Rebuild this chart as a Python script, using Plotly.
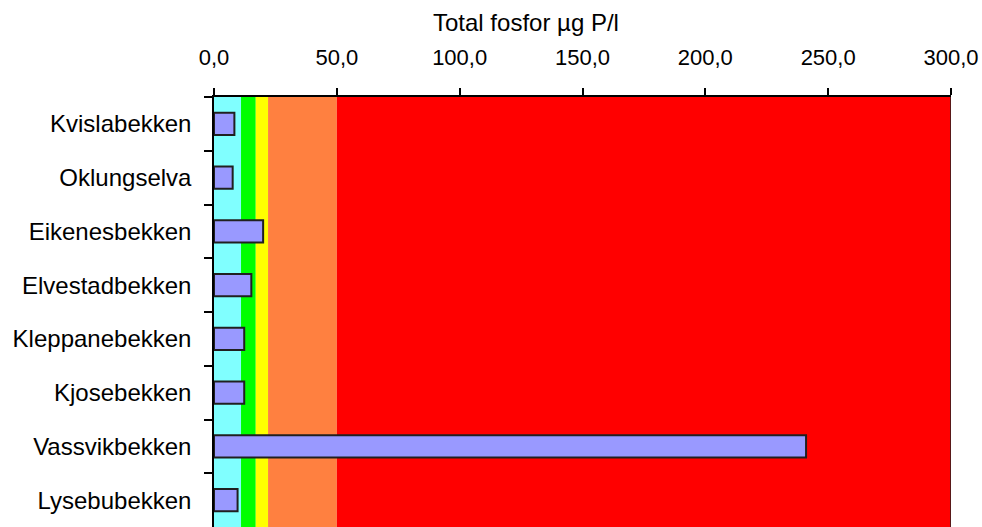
import plotly.graph_objects as go

categories = ["Kvislabekken", "Oklungselva", "Eikenesbekken", "Elvestadbekken",
              "Kleppanebekken", "Kjosebekken", "Vassvikbekken", "Lysebubekken"]
values = [8.3, 7.6, 20.0, 15.2, 12.3, 12.3, 241.0, 9.6]

band_limits = [0, 11, 17, 22, 50, 300]
band_colors = ["#80FFFF", "#00FF00", "#FFFF00", "#FF8040", "#FF0000"]

x_ticks = [0, 50, 100, 150, 200, 250, 300]
x_title = "Total fosfor µg P/l"

FONT = "Liberation Sans, Arial, sans-serif"

fig = go.Figure()
fig.add_trace(go.Bar(
    x=values, y=categories, orientation="h", width=0.41,
    marker=dict(color="#9999FF", line=dict(color="#202020", width=2)),
    showlegend=False, hoverinfo="x+y",
))

shapes = []
for i, c in enumerate(band_colors):
    shapes.append(dict(type="rect", xref="x", yref="paper",
                       x0=band_limits[i], x1=band_limits[i + 1], y0=0, y1=1,
                       fillcolor=c, line=dict(width=0), layer="below"))
# right border of plot
shapes.append(dict(type="line", xref="x", yref="paper", x0=band_limits[-1], x1=band_limits[-1],
                   y0=0, y1=1, line=dict(color="#202020", width=1.5), layer="above"))
fig.update_layout(shapes=shapes)

fig.update_layout(
    width=982, height=527,
    margin=dict(l=214, r=31, t=97, b=0, autoexpand=False),
    paper_bgcolor="white", plot_bgcolor="white",
    separators=",.",
    font=dict(family=FONT, size=23, color="#000000"),
    bargap=0.59,
    annotations=[dict(text=x_title, xref="paper", yref="paper",
                      x=(526 - 214) / 737, y=1 + (97 - 23) / 430,
                      xanchor="center", yanchor="middle", showarrow=False,
                      font=dict(family=FONT, size=24, color="#000000"))],
)
fig.update_xaxes(
    side="top", range=[0, 300], tickvals=x_ticks, tickformat=".1f",
    ticks="outside", ticklen=7, tickcolor="#000", tickwidth=1.5,
    showline=True, linecolor="#000", linewidth=1.5,
    showgrid=False, zeroline=False, ticklabelstandoff=14, automargin=False,
    tickfont=dict(family=FONT, size=22),
)
fig.update_yaxes(
    type="category", categoryorder="array", categoryarray=categories,
    autorange="reversed", tickson="boundaries",
    ticks="outside", ticklen=8, tickcolor="#000", tickwidth=1.5,
    showline=True, linecolor="#000", linewidth=1.5,
    showgrid=False, zeroline=False, ticklabelstandoff=16, automargin=False,
    tickfont=dict(family=FONT, size=24),
)

fig.write_html(
    "out.html",
    config={"displayModeBar": False},
    post_script="document.body.style.margin='0';document.body.style.overflow='hidden';",
)
